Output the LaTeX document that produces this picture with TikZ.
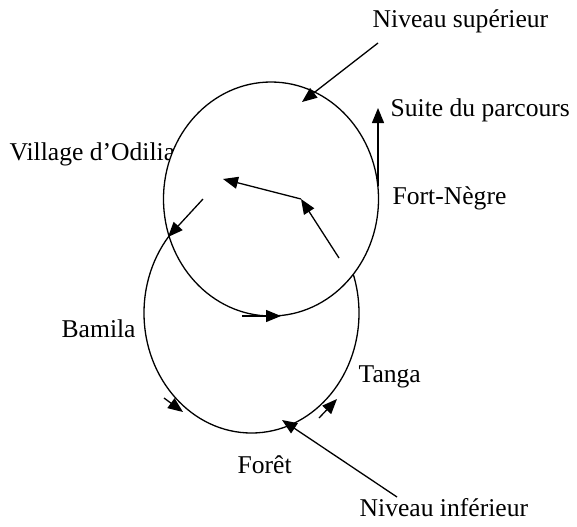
\documentclass[tikz,border=0pt]{standalone}
\usepackage{fontspec}
\setmainfont{Liberation Serif}
\usetikzlibrary{arrows.meta}
\begin{document}
\begin{tikzpicture}[x=0.5pt, y=-0.5pt, line width=0.65pt,
    fl/.style={-{Triangle[length=7.5pt, width=6pt]}},
    lbl/.style={anchor=base west, inner sep=0pt, font=\fontsize{12.8}{15}\selectfont}]

    \useasboundingbox (0,0) rectangle (577,526);

    % labels
    \node[lbl] (sup) at (372,27) {Niveau supérieur};
    \node[lbl] (suite) at (390,116) {Suite du parcours};
    \node[lbl] (odilia) at (9,160) {Village d’Odilia};
    \node[lbl] (fort) at (392,204) {Fort-Nègre};
    \node[lbl] (bamila) at (61,337) {Bamila};
    \node[lbl] (tanga) at (358,382) {Tanga};
    \node[lbl] (foret) at (237,473) {Forêt};
    \node[lbl] (inf) at (359,516) {Niveau inférieur};

    % the two loops
    \draw (251.5,313) ellipse [x radius=107.5, y radius=120];
    \draw[fill=white] (271,199) ellipse [x radius=107.5, y radius=117];

    % arrow ends
    \coordinate (a1) at (378,43);   \coordinate (a2) at (302,102);
    \coordinate (b1) at (378,186);  \coordinate (b2) at (378,108);
    \coordinate (c1) at (339,258);  \coordinate (c2) at (301,199);
    \coordinate (c3) at (223,179);
    \coordinate (d1) at (203,199);  \coordinate (d2) at (168,237);
    \coordinate (e1) at (242,316);  \coordinate (e2) at (281,316);
    \coordinate (f1) at (164,398);  \coordinate (f2) at (183,412);
    \coordinate (g1) at (319,418);  \coordinate (g2) at (337,399);
    \coordinate (h1) at (397,497);  \coordinate (h2) at (282,420);

    % arrows
    \draw[fl] (a1) -- (a2);
    \draw[fl] (b1) -- (b2);
    \draw[fl] (c1) -- (c2);
    \draw[fl] (c2) -- (c3);
    \draw[fl] (d1) -- (d2);
    \draw[fl] (e1) -- (e2);
    \draw[fl] (f1) -- (f2);
    \draw[fl] (g1) -- (g2);
    \draw[fl] (h1) -- (h2);

\end{tikzpicture}
\end{document}
